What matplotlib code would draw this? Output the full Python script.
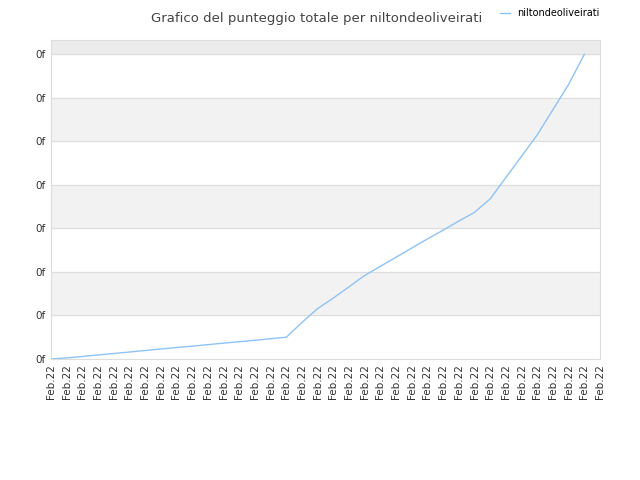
import matplotlib
matplotlib.use("Agg")
import matplotlib.pyplot as plt

labels = ["Feb.22"] * 36
values = [0, 0.026, 0.058, 0.093, 0.127, 0.16, 0.195, 0.23, 0.264, 0.295, 0.33, 0.364,
          0.397, 0.43, 0.466, 0.5, 0.84, 1.16, 1.40, 1.66, 1.92, 2.13, 2.34, 2.55, 2.76,
          2.96, 3.17, 3.37, 3.68, 4.17, 4.66, 5.15, 5.73, 6.31, 7.0]
yticks = list(range(8))

fig = plt.figure(figsize=(6.4, 4.8), dpi=100)
ax = fig.add_axes([51/640, 121/480, 549/640, 319/480])
ymax = 7.33
for i in range(7):
    if i % 2 == 1:
        ax.axhspan(i, i + 1, color="#f2f2f2", zorder=0)
ax.axhspan(7, ymax, color="#ececec", zorder=0)
for y in yticks:
    ax.axhline(y, color="#dddddd", lw=0.8, zorder=1)
line, = ax.plot(range(len(values)), values, color="#8ec3f5", lw=1, label="niltondeoliveirati", zorder=3)
ax.set_xlim(0, 35)
ax.set_ylim(0, ymax)
ax.set_xticks(range(36))
ax.set_xticklabels(labels, rotation=90, fontsize=7.5, color="#333333")
ax.set_yticks(yticks)
ax.set_yticklabels(["0f"] * 8, fontsize=7.5, color="#333333")
ax.tick_params(length=0, pad=4)
for s in ax.spines.values():
    s.set_color("#dddddd")
fig.text(0.495, 0.975, "Grafico del punteggio totale per niltondeoliveirati", ha="center", va="top",
         fontsize=9.5, color="#444444")
fig.legend(handles=[line], loc="center left", bbox_to_anchor=(500/640, 1 - 13/480), frameon=False,
           fontsize=7, handlelength=1, handletextpad=0.8, borderpad=0, borderaxespad=0)
fig.savefig("out.png", dpi=100)
